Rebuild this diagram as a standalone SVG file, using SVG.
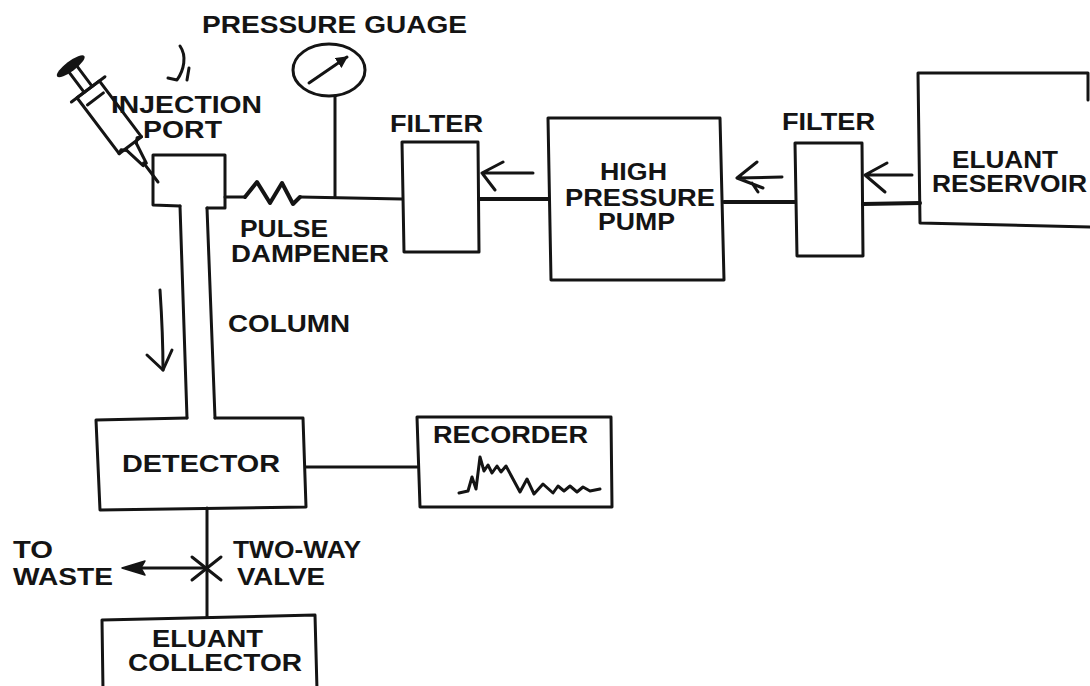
<svg xmlns="http://www.w3.org/2000/svg" width="1090" height="686" viewBox="0 0 1090 686">
  <defs>
    <style>
      .ln { fill: none; stroke: #141414; stroke-width: 3; stroke-linecap: round; stroke-linejoin: round; }
      .thk { fill: none; stroke: #141414; stroke-width: 4; stroke-linecap: round; stroke-linejoin: round; }
      .hand { fill: none; stroke: #141414; stroke-width: 3; stroke-linecap: round; stroke-linejoin: round; }
      .head { fill: #141414; stroke: #141414; stroke-width: 1.5; stroke-linejoin: round; }
      .t { font-family: "Liberation Sans", Arial, Helvetica, sans-serif; font-weight: bold; font-size: 23px; fill: #141414; }
    </style>
    <marker id="needleHead" viewBox="0 0 10 10" refX="9" refY="5" markerWidth="4" markerHeight="4" orient="auto">
      <path d="M0,0 L10,5 L0,10 Z" fill="#141414"/>
    </marker>
  </defs>

  <rect width="1090" height="686" fill="#ffffff"/>

  <!-- syringe feeding the injection port -->
  <g id="syringe" transform="translate(158,182) rotate(53)">
    <line class="ln" x1="0" y1="0" x2="-24" y2="0"/>
    <path class="ln" d="M-22,-2 L-44,-6 M-22,2 L-44,6"/>
    <path class="ln" d="M-44,-6 L-48,-10 L-46,-14 M-44,6 L-48,10 L-46,14"/>
    <rect class="ln" x="-116" y="-14" width="70" height="28"/>
    <line class="ln" x1="-116" y1="-21" x2="-116" y2="21"/>
    <path class="ln" d="M-116,-5 L-140,-5 M-116,5 L-140,5 M-104,-10 L-104,10"/>
    <ellipse cx="-145" cy="0" rx="5" ry="17" fill="#141414"/>
  </g>

  <!-- hand-drawn marks near the syringe and beside the column -->
  <g id="hand-marks">
    <path class="hand" d="M180,46 C187,56 184,70 177,80 L168,78"/>
    <path class="hand" d="M189,68 L187,80"/>
    <path class="hand" d="M160,290 C162,320 163,345 163,370"/>
    <path class="hand" d="M147,355 L163,370 L172,350"/>
  </g>

  <!-- injection port and column -->
  <g id="injection-port">
    <path class="ln" d="M180,206 L153,205 L153,155 L225,155 L225,208 L207,208"/>
    <text class="t" x="111" y="113" textLength="151" lengthAdjust="spacingAndGlyphs">INJECTION</text>
    <text class="t" x="143" y="138" textLength="79" lengthAdjust="spacingAndGlyphs">PORT</text>
  </g>

  <g id="column">
    <path class="ln" d="M180,206 L187,418"/>
    <path class="ln" d="M207,208 L215,418"/>
    <text class="t" x="228" y="332" textLength="122" lengthAdjust="spacingAndGlyphs">COLUMN</text>
  </g>

  <!-- pulse dampener coil -->
  <g id="pulse-dampener">
    <path class="thk" d="M245,197 L257,182 L270,203 L282,183 L293,204 L300,197"/>
    <text class="t" x="240" y="237" textLength="88" lengthAdjust="spacingAndGlyphs">PULSE</text>
    <text class="t" x="231" y="262" textLength="158" lengthAdjust="spacingAndGlyphs">DAMPENER</text>
  </g>

  <!-- pressure gauge -->
  <g id="pressure-gauge">
    <ellipse class="ln" cx="329" cy="70" rx="36" ry="26"/>
    <line class="ln" x1="309" y1="83" x2="347" y2="57" marker-end="url(#needleHead)"/>
    <line class="ln" x1="335" y1="96" x2="335" y2="197"/>
    <text class="t" x="202" y="33" textLength="265" lengthAdjust="spacingAndGlyphs">PRESSURE GUAGE</text>
  </g>

  <g id="filter-1">
    <path class="ln" d="M402,142 L478,142 L479,252 L404,252 Z"/>
    <text class="t" x="390" y="132" textLength="93" lengthAdjust="spacingAndGlyphs">FILTER</text>
  </g>

  <g id="high-pressure-pump">
    <path class="ln" d="M548,118 L720,118 L724,280 L551,280 Z"/>
    <text class="t" x="600" y="180" textLength="67" lengthAdjust="spacingAndGlyphs">HIGH</text>
    <text class="t" x="565" y="206" textLength="150" lengthAdjust="spacingAndGlyphs">PRESSURE</text>
    <text class="t" x="598" y="230" textLength="77" lengthAdjust="spacingAndGlyphs">PUMP</text>
  </g>

  <g id="filter-2">
    <path class="ln" d="M795,143 L862,143 L863,256 L797,256 Z"/>
    <text class="t" x="782" y="130" textLength="93" lengthAdjust="spacingAndGlyphs">FILTER</text>
  </g>

  <g id="eluant-reservoir">
    <path class="ln" d="M1088,100 L1088,73 L918,73 L920,223 L1092,227"/>
    <text class="t" x="952" y="168" textLength="106" lengthAdjust="spacingAndGlyphs">ELUANT</text>
    <text class="t" x="932" y="192" textLength="155" lengthAdjust="spacingAndGlyphs">RESERVOIR</text>
  </g>

  <g id="detector">
    <path class="ln" d="M187,418 L96,420 L100,510 L306,507 L303,418 L215,418"/>
    <text class="t" x="122" y="472" textLength="158" lengthAdjust="spacingAndGlyphs">DETECTOR</text>
  </g>

  <g id="recorder">
    <path class="ln" d="M417,417 L611,417 L612,507 L420,507 Z"/>
    <text class="t" x="433" y="443" textLength="155" lengthAdjust="spacingAndGlyphs">RECORDER</text>
    <polyline class="ln" points="459,493 468,491 472,477 476,489 480,457 484,471 488,465 492,473 497,466 501,472 506,466 520,492 527,479 534,494 543,484 553,493 558,486 564,491 570,486 577,492 583,487 590,491 600,489"/>
  </g>

  <g id="two-way-valve">
    <path class="ln" d="M192,557 L221,580 M192,580 L221,557"/>
    <text class="t" x="233" y="558" textLength="128" lengthAdjust="spacingAndGlyphs">TWO-WAY</text>
    <text class="t" x="237" y="585" textLength="88" lengthAdjust="spacingAndGlyphs">VALVE</text>
  </g>

  <g id="waste">
    <text class="t" x="13" y="558" textLength="40" lengthAdjust="spacingAndGlyphs">TO</text>
    <text class="t" x="13" y="585" textLength="100" lengthAdjust="spacingAndGlyphs">WASTE</text>
  </g>

  <g id="eluant-collector">
    <path class="ln" d="M103,690 L102,620 L315,615 L317,690"/>
    <text class="t" x="152" y="647" textLength="111" lengthAdjust="spacingAndGlyphs">ELUANT</text>
    <text class="t" x="128" y="671" textLength="174" lengthAdjust="spacingAndGlyphs">COLLECTOR</text>
  </g>

  <!-- tubing and signal lines -->
  <g id="connectors">
    <path class="ln" d="M225,197 L245,197"/>
    <path class="ln" d="M300,197 L402,199"/>
    <path class="thk" d="M479,199 L548,199"/>
    <path class="thk" d="M724,202 L795,202"/>
    <path class="thk" d="M863,204 L920,203"/>
    <path class="ln" d="M306,467 L417,467"/>
    <path class="ln" d="M207,508 L207,617"/>
    <path class="ln" d="M207,568 L140,568"/>
    <path class="head" d="M122,568 L145,561 L141,568 L145,575 Z"/>
  </g>

  <!-- hand-drawn flow arrows along the supply line -->
  <g id="flow-arrows">
    <path class="hand" d="M533,173 L482,173 M503,162 L482,173 L495,190"/>
    <path class="hand" stroke-width="4" d="M782,177 L737,178 M757,162 L737,178 L763,188 M752,183 L758,192"/>
    <path class="hand" d="M912,175 L865,175 M887,163 L865,175 L885,192"/>
  </g>
</svg>
